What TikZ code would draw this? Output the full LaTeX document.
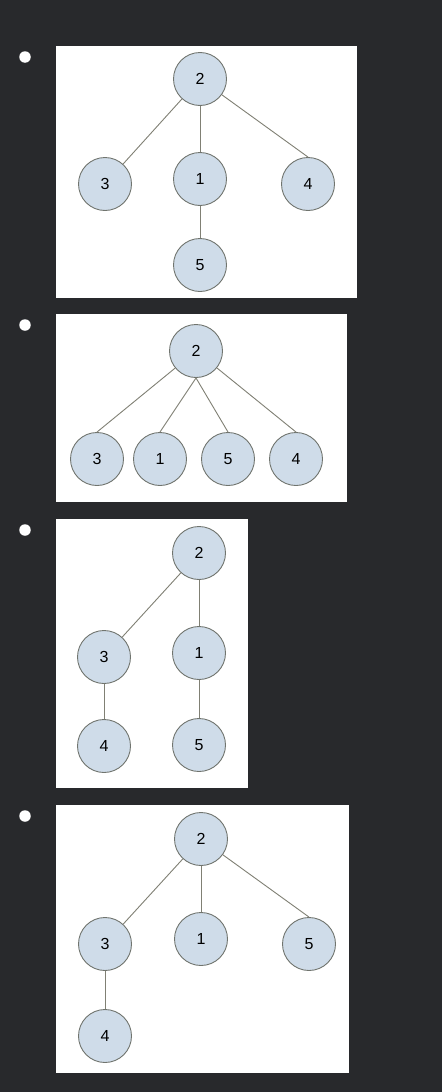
\documentclass[tikz,border=0pt]{standalone}
\usepackage{fontspec}
\setmainfont{Liberation Sans}
\usepackage{xcolor}
\usetikzlibrary{positioning}
\definecolor{bgcol}{RGB}{40,41,44}
\definecolor{vertcol}{RGB}{207,220,233}
\definecolor{rimcol}{RGB}{112,116,110}
\definecolor{linkcol}{RGB}{128,128,116}

\begin{document}
\begin{tikzpicture}[
    x=1pt, y=-1pt,
    vert/.style={
        circle, draw=rimcol, fill=vertcol, line width=0.9pt,
        minimum size=53pt, inner sep=0pt, font=\fontsize{16}{18}\selectfont
    },
    link/.style={draw=linkcol, line width=0.9pt},
    panel/.style={fill=white},
    bullet/.style={circle, fill=white, minimum size=11.5pt, inner sep=0pt}
]
\fill[bgcol] (0,0) rectangle (442,1092);
\useasboundingbox (0,0) rectangle (442,1092);

% white panels
\fill[panel] (56,46) rectangle (357,298);
\fill[panel] (56,314) rectangle (347,502);
\fill[panel] (56,519) rectangle (248,788);
\fill[panel] (56,805) rectangle (349,1073);

% bullets
\node[bullet] (b1) at (25,57) {};
\node[bullet] (b2) at (25,325) {};
\node[bullet] (b3) at (25,530) {};
\node[bullet] (b4) at (25,816) {};

% tree 1
\node[vert] (a2) at (200,79) {2};
\node[vert] (a3) at (105,184) {3};
\node[vert] (a1) at (200,179) {1};
\node[vert] (a4) at (308,184) {4};
\node[vert] (a5) at (200,265) {5};
\draw[link] (a2) -- (a3);
\draw[link] (a2) -- (a1);
\draw[link] (a2) -- (a4.north);
\draw[link] (a1) -- (a5);

% tree 2
\node[vert] (c2) at (196,351) {2};
\node[vert] (c3) at (97,459) {3};
\node[vert] (c1) at (160,459) {1};
\node[vert] (c5) at (228,459) {5};
\node[vert] (c4) at (296,459) {4};
\draw[link] (c2) -- (c3.north);
\draw[link] (c2.south) -- (c1.north);
\draw[link] (c2.south) -- (c5.north);
\draw[link] (c2) -- (c4.north);

% tree 3
\node[vert] (d2) at (199,553) {2};
\node[vert] (d3) at (104,657) {3};
\node[vert] (d1) at (199,653) {1};
\node[vert] (d4) at (104,746) {4};
\node[vert] (d5) at (199,745) {5};
\draw[link] (d2) -- (d3);
\draw[link] (d2) -- (d1);
\draw[link] (d3) -- (d4);
\draw[link] (d1) -- (d5);

% tree 4
\node[vert] (e2) at (201,839) {2};
\node[vert] (e3) at (105,944) {3};
\node[vert] (e1) at (201,939) {1};
\node[vert] (e5) at (309,944) {5};
\node[vert] (e4) at (105,1036) {4};
\draw[link] (e2) -- (e3);
\draw[link] (e2) -- (e1);
\draw[link] (e2) -- (e5.north);
\draw[link] (e3) -- (e4);
\end{tikzpicture}
\end{document}
